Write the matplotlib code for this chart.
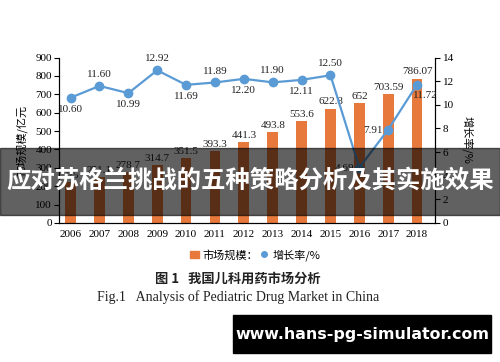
import matplotlib.pyplot as plt
import matplotlib.patches as mpatches
from matplotlib.lines import Line2D
import numpy as np

plt.rcParams['font.family'] = ['Liberation Serif', 'Noto Sans CJK SC']

years = ['2006', '2007', '2008', '2009', '2010', '2011', '2012',
         '2013', '2014', '2015', '2016', '2017', '2018']
market = [225, 251.1, 278.7, 314.7, 351.5, 393.3, 441.3,
          493.8, 553.6, 622.8, 652, 703.59, 786.07]
market_labels = ['225', '251.1', '278.7', '314.7', '351.5', '393.3', '441.3',
                 '493.8', '553.6', '622.8', '652', '703.59', '786.07']
growth = [10.60, 11.60, 10.99, 12.92, 11.69, 11.89, 12.20,
          11.90, 12.11, 12.50, 4.69, 7.91, 11.72]

orange = '#E8793D'
blue = '#5B9BD5'
cjk = ['Noto Sans CJK SC', 'DejaVu Sans']

fig = plt.figure(figsize=(5, 3.62), dpi=100)
ax = fig.add_axes([0.118, 0.384, 0.752, 0.457])
ax2 = ax.twinx()

x = np.arange(len(years))
ax.bar(x, market, width=0.37, color=orange, zorder=2)
for xi, v, s in zip(x, market, market_labels):
    ax.annotate(s, (xi, v), xytext=(0, 1.5), textcoords='offset points',
                ha='center', va='bottom', fontsize=8, color='#222222')

ax.set_xlim(-0.4, 12.62)
ax.set_ylim(0, 900)
ax.set_yticks(range(0, 901, 100))
ax.set_xticks(x)
ax.set_xticklabels(years)
ax.tick_params(axis='x', length=0, pad=5, labelsize=8)
ax.tick_params(axis='y', length=3.5, width=0.8, pad=1.5, labelsize=8)
ax.spines['top'].set_visible(False)
ax.set_ylabel('市场规模/亿元', fontsize=8, family=cjk, labelpad=5)

ax2.plot(x, growth, color=blue, lw=1.6, marker='o', ms=6, zorder=3)
ax2.set_ylim(0, 14)
ax2.set_yticks(range(0, 15, 2))
ax2.tick_params(axis='y', length=3.5, width=0.8, pad=2, labelsize=8)
ax2.spines['top'].set_visible(False)
ax2.set_ylabel('增长率/%', fontsize=8, family=cjk, rotation=270, labelpad=14)

# where each growth label sits relative to its point
pos = ['below', 'above', 'below', 'above', 'below', 'above', 'below',
       'above', 'below', 'above', 'left', 'left', 'belowright']
for xi, g, p in zip(x, growth, pos):
    s = '%.2f' % g
    if p == 'above':
        ax2.annotate(s, (xi, g), xytext=(0, 5), textcoords='offset points',
                     ha='center', va='bottom', fontsize=8, color='#222222')
    elif p == 'below':
        ax2.annotate(s, (xi, g), xytext=(0, -5), textcoords='offset points',
                     ha='center', va='top', fontsize=8, color='#222222')
    elif p == 'left':
        ax2.annotate(s, (xi, g), xytext=(-4, -1), textcoords='offset points',
                     ha='right', va='center', fontsize=8, color='#222222')
    else:
        ax2.annotate(s, (xi, g), xytext=(-3, -5), textcoords='offset points',
                     ha='left', va='top', fontsize=8, color='#222222')

# legend
handles = [mpatches.Patch(color=orange, label='市场规模：'),
           Line2D([], [], color=blue, marker='o', ls='none', ms=4, label='增长率/%')]
fig.legend(handles=handles, loc='center', bbox_to_anchor=(0.51, 1 - 255 / 362),
           ncol=2, frameon=False, prop={'family': cjk, 'size': 8},
           handlelength=0.8, handletextpad=0.3, columnspacing=0.2)

# captions
fig.text(0.476, 1 - 279 / 362, '图 1   我国儿科用药市场分析', ha='center', va='center',
         fontsize=9.5, fontweight='bold', family=cjk, color='#222222')
fig.text(0.476, 1 - 297 / 362, 'Fig.1   Analysis of Pediatric Drug Market in China',
         ha='center', va='center', fontsize=10, color='#222222')

# dark banner across the chart
fig.patches.append(mpatches.Rectangle((0, 1 - 215 / 362), 1, 67 / 362,
                                      transform=fig.transFigure, color='black',
                                      alpha=0.62, zorder=10))
fig.text(0.5, 1 - 181 / 362, '应对苏格兰挑战的五种策略分析及其实施效果', ha='center',
         va='center', fontsize=17.6, fontweight='bold', color='white',
         family=cjk, zorder=11)

# watermark box
fig.patches.append(mpatches.Rectangle((233 / 500, 1 - 353 / 362), 258 / 500, 38 / 362,
                                      transform=fig.transFigure, color='black', zorder=10))
fig.text(362 / 500, 1 - 334 / 362, 'www.hans-pg-simulator.com', ha='center', va='center',
         fontsize=11.4, fontweight='bold', color='white', family='DejaVu Sans', zorder=11)

fig.savefig('out.png', dpi=100)
